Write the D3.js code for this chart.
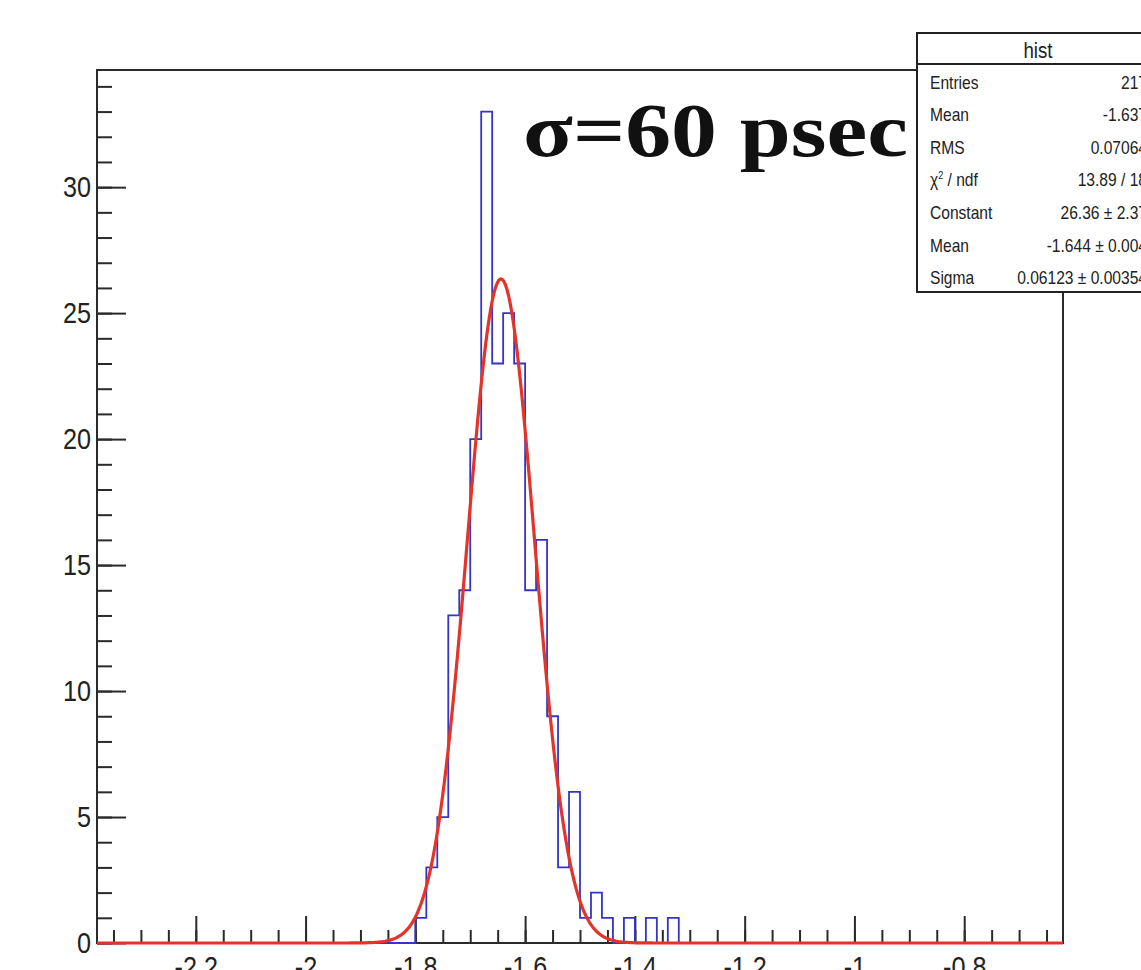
<!DOCTYPE html>
<html>
<head>
<meta charset="utf-8">
<script src="https://cdn.jsdelivr.net/npm/d3@7"></script>
<style>
  body { margin: 0; background: #fff; }
  svg { display: block; }
</style>
</head>
<body>
<div id="chart"></div>
<script>
// histogram bins (low edge, width 0.02) and counts
const binLows = [-1.80, -1.78, -1.76, -1.74, -1.72, -1.70, -1.68, -1.66, -1.64, -1.62,
                 -1.60, -1.58, -1.56, -1.54, -1.52, -1.50, -1.48, -1.46, -1.44, -1.42,
                 -1.40, -1.38, -1.36, -1.34];
const counts = [1, 3, 5, 13, 14, 20, 33, 23, 25, 23,
                14, 16, 9, 3, 6, 1, 2, 1, 0, 1,
                0, 1, 0, 1];
const binWidth = 0.02;

// gaus fit parameters (from stats box)
const fitConstant = 26.36, fitMean = -1.644, fitSigma = 0.06123;

const xMajorTicks = [-2.2, -2, -1.8, -1.6, -1.4, -1.2, -1, -0.8];
const xTickLabels = ["-2.2", "-2", "-1.8", "-1.6", "-1.4", "-1.2", "-1", "-0.8"];
const yMajorTicks = [0, 5, 10, 15, 20, 25, 30];

const statLabels = ["Entries", "Mean", "RMS", "chi", "Constant", "Mean", "Sigma"];
const statValues = ["217", "-1.637", "0.07064", "13.89 / 18", "26.36 \u00b1 2.37", "-1.644 \u00b1 0.004", "0.06123 \u00b1 0.00354"];

const W = 1141, H = 970;
const frame = {left: 97, right: 1063, top: 70, bottom: 943};
const sans = "'Liberation Sans', Arial, sans-serif";

let x = d3.scaleLinear().domain([-2.38, -0.62]).range([frame.left, frame.right]);
let y = d3.scaleLinear().domain([0, 34.65]).range([frame.bottom, frame.top]);

// squeeze text horizontally (the original uses a narrow helvetica)
function condense(sel, f) {
  sel.each(function() {
    let w = this.getComputedTextLength();
    if (w > 0) d3.select(this).attr("textLength", w * f).attr("lengthAdjust", "spacingAndGlyphs");
  });
}

let svg = d3.select("#chart").append("svg")
  .attr("width", W)
  .attr("height", H);

// frame
svg.append("rect")
  .attr("x", frame.left).attr("y", frame.top)
  .attr("width", frame.right - frame.left).attr("height", frame.bottom - frame.top)
  .attr("fill", "none").attr("stroke", "#2a2a2a").attr("stroke-width", 2);

// y axis: minor then major ticks (pointing inwards)
let yMinor = d3.axisLeft(y).tickValues(d3.range(0, 35, 1)).tickSize(-15).tickFormat("");
svg.append("g").attr("transform", `translate(${frame.left},0)`).call(yMinor)
  .call(g => g.select(".domain").remove());

let yAxis = d3.axisLeft(y).tickValues(yMajorTicks).tickSize(-29).tickPadding(6);
svg.append("g").attr("class", "y axis").attr("transform", `translate(${frame.left},0)`).call(yAxis)
  .call(g => g.select(".domain").remove());

// x axis
let xMinor = d3.axisBottom(x).tickValues(d3.range(-2.35, -0.64, 0.05)).tickSize(-13).tickFormat("");
svg.append("g").attr("transform", `translate(0,${frame.bottom})`).call(xMinor)
  .call(g => g.select(".domain").remove());

let xAxis = d3.axisBottom(x).tickValues(xMajorTicks).tickSize(-27).tickPadding(13)
  .tickFormat((d, i) => xTickLabels[i]);
svg.append("g").attr("class", "x axis").attr("transform", `translate(0,${frame.bottom})`).call(xAxis)
  .call(g => g.select(".domain").remove());

svg.selectAll(".tick line").attr("stroke", "#2a2a2a").attr("stroke-width", 2);
svg.selectAll(".axis text")
  .attr("font-family", sans)
  .attr("font-size", 30)
  .attr("fill", "#222")
  .call(condense, 0.84);

// histogram outline
let pts = [{x: x.domain()[0], c: 0}];
binLows.forEach((b, i) => pts.push({x: b, c: counts[i]}));
pts.push({x: binLows[binLows.length - 1] + binWidth, c: 0});
pts.push({x: x.domain()[1], c: 0});

let histLine = d3.line()
  .x(d => x(d.x))
  .y(d => y(d.c))
  .curve(d3.curveStepAfter);

svg.append("path")
  .datum(pts)
  .attr("d", histLine)
  .attr("fill", "none")
  .attr("stroke", "#3434c8")
  .attr("stroke-width", 1.8);

// fitted gaussian
let fx = d3.range(x.domain()[0], x.domain()[1], 0.003);
fx.push(x.domain()[1]);
let fitLine = d3.line()
  .x(d => x(d))
  .y(d => y(fitConstant * Math.exp(-0.5 * Math.pow((d - fitMean) / fitSigma, 2))));

svg.append("path")
  .datum(fx)
  .attr("d", fitLine)
  .attr("fill", "none")
  .attr("stroke", "#e3342a")
  .attr("stroke-width", 3.2)
  .attr("stroke-linejoin", "round");

// annotation
svg.append("text")
  .attr("x", 523).attr("y", 156)
  .attr("font-family", "'Liberation Serif', 'Times New Roman', serif")
  .attr("font-weight", "bold")
  .attr("font-size", 76)
  .attr("textLength", 385)
  .attr("lengthAdjust", "spacingAndGlyphs")
  .attr("fill", "#111")
  .text("\u03c3=60 psec");

// stats box
let box = svg.append("g");
box.append("rect")
  .attr("x", 917).attr("y", 33)
  .attr("width", 260).attr("height", 259)
  .attr("fill", "#fff").attr("stroke", "#222").attr("stroke-width", 2);
box.append("line")
  .attr("x1", 917).attr("x2", 1177).attr("y1", 64).attr("y2", 64)
  .attr("stroke", "#222").attr("stroke-width", 2);
box.append("text")
  .attr("x", 1038).attr("y", 58)
  .attr("text-anchor", "middle")
  .attr("font-family", sans).attr("font-size", 22).attr("fill", "#222")
  .text("hist")
  .call(condense, 0.85);

let rows = box.selectAll(".row")
  .data(statLabels)
  .enter().append("g")
  .attr("class", "row")
  .attr("transform", (d, i) => `translate(0,${88.5 + i * 32.6})`);

rows.append("text")
  .attr("x", 930)
  .attr("font-family", sans).attr("font-size", 19).attr("fill", "#222")
  .each(function(d) {
    let t = d3.select(this);
    if (d === "chi") {
      t.append("tspan").text("\u03c7");
      t.append("tspan").attr("font-size", 11).attr("dy", -7).text("2");
      t.append("tspan").attr("dy", 7).text(" / ndf");
    } else {
      t.text(d);
    }
  })
  .call(condense, 0.82);

rows.append("text")
  .attr("x", 1147)
  .attr("text-anchor", "end")
  .attr("font-family", sans).attr("font-size", 19).attr("fill", "#222")
  .text((d, i) => statValues[i])
  .call(condense, 0.82);
</script>
</body>
</html>
